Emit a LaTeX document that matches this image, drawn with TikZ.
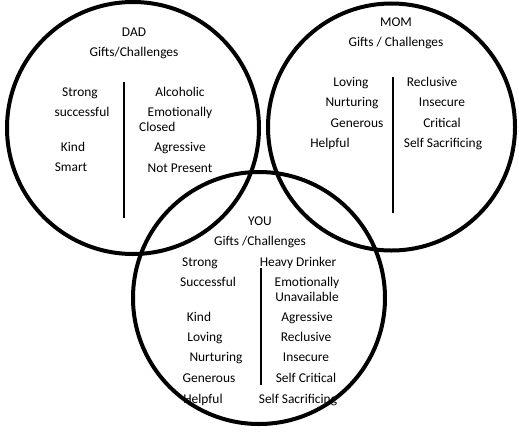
\documentclass[tikz,border=0pt]{standalone}
\usepackage{fontspec}
\setmainfont{Carlito}
\begin{document}
\begin{tikzpicture}[x=1pt,y=-1pt,
  lbl/.style={anchor=base,inner sep=0pt,font=\fontsize{13.4}{16}\selectfont},
  ring/.style={line width=4pt,black},
  divider/.style={line width=1.7pt,black}]
\useasboundingbox (0,0) rectangle (519,431);
% DAD
\node[lbl] (dadt) at (134,36) {DAD};
\node[lbl] (dadg) at (134,56) {Gifts/Challenges};
\node[lbl] (d1) at (80,96) {Strong};
\node[lbl] (d2) at (82,116) {successful};
\node[lbl] (d3) at (73,151) {Kind};
\node[lbl] (d4) at (71,171) {Smart};
\node[lbl] (d5) at (180,96) {Alcoholic};
\node[lbl] (d6) at (180,116) {Emotionally};
\node[lbl,anchor=base west] (d7) at (139,131) {Closed};
\node[lbl] (d8) at (180,151) {Agressive};
\node[lbl] (d9) at (180,172) {Not Present};
\coordinate (dl1) at (124,82);
\coordinate (dl2) at (124,218);
\draw[divider] (dl1) -- (dl2);
% MOM
\node[lbl] (momt) at (396,26) {MOM};
\node[lbl] (momg) at (396,46) {Gifts / Challenges};
\node[lbl] (m1) at (351,86) {Loving};
\node[lbl] (m2) at (352,106) {Nurturing};
\node[lbl] (m3) at (357,127) {Generous};
\node[lbl] (m4) at (330,147) {Helpful};
\node[lbl] (m5) at (432,86) {Reclusive};
\node[lbl] (m6) at (442,106) {Insecure};
\node[lbl] (m7) at (442,127) {Critical};
\node[lbl] (m8) at (443,147) {Self Sacrificing};
\coordinate (ml1) at (393,77);
\coordinate (ml2) at (393,213);
\draw[divider] (ml1) -- (ml2);
% YOU
\node[lbl] (yout) at (260,225) {YOU};
\node[lbl] (youg) at (260,245) {Gifts /Challenges};
\node[lbl] (y1) at (200,266) {Strong};
\node[lbl] (y2) at (208,286) {Successful};
\node[lbl] (y3) at (199,321) {Kind};
\node[lbl] (y4) at (205,341) {Loving};
\node[lbl] (y5) at (216,361) {Nurturing};
\node[lbl] (y6) at (209,382) {Generous};
\node[lbl] (y7) at (203,403) {Helpful};
\node[lbl] (y8) at (298,266) {Heavy Drinker};
\node[lbl] (y9) at (307,286) {Emotionally};
\node[lbl] (y10) at (307,301) {Unavailable};
\node[lbl] (y11) at (307,321) {Agressive};
\node[lbl] (y12) at (306,341) {Reclusive};
\node[lbl] (y13) at (306,361) {Insecure};
\node[lbl] (y14) at (306,382) {Self Critical};
\node[lbl] (y15) at (298,403) {Self Sacrificing};
\coordinate (yl1) at (261,268);
\coordinate (yl2) at (261,385);
\draw[divider] (yl1) -- (yl2);
% circles
\coordinate (cd) at (133,128);
\coordinate (cm) at (391.5,127);
\coordinate (cy) at (259,298);
\draw[ring] (cd) circle[radius=126];
\draw[ring] (cm) circle[radius=123.5];
\draw[ring] (cy) circle[radius=126];
\end{tikzpicture}
\end{document}
